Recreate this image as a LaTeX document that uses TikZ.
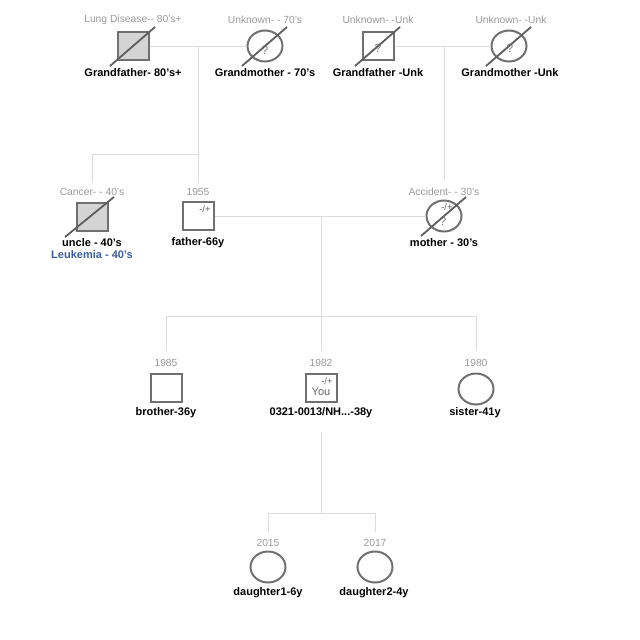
\documentclass[tikz,border=0pt]{standalone}
\usepackage{fontspec}
\setmainfont{Liberation Sans}
\usetikzlibrary{shapes.geometric,calc}
\definecolor{infogray}{HTML}{9A9A9A}
\definecolor{symgray}{HTML}{707070}
\definecolor{affgray}{HTML}{D4D4D4}
\definecolor{linkgray}{HTML}{DCDCDC}
\definecolor{slashgray}{HTML}{5E5E5E}
\definecolor{marktext}{HTML}{666666}
\definecolor{qgray}{HTML}{808080}
\definecolor{diseaseblue}{HTML}{3B5E9C}
\tikzset{
  male/.style={draw=symgray, line width=2pt, rectangle, minimum width=31pt, minimum height=28pt, inner sep=0pt},
  female/.style={draw=symgray, line width=2pt, ellipse, minimum width=35pt, minimum height=31pt, inner sep=0pt},
  affected/.style={fill=affgray},
  info/.style={text=infogray, font=\fontsize{10.3}{12}\selectfont, inner sep=0pt},
  pname/.style={font=\bfseries\fontsize{11}{13}\selectfont, inner sep=0pt},
  disease/.style={text=diseaseblue, font=\bfseries\fontsize{11}{13}\selectfont, inner sep=0pt},
  carriermark/.style={text=marktext, font=\fontsize{9.5}{10}\selectfont, inner sep=0pt},
  unknownmark/.style={text=qgray, font=\fontsize{12}{13}\selectfont, inner sep=0pt},
  link/.style={draw=linkgray, line width=0.8pt},
  slash/.style={draw=slashgray, line width=1.8pt},
}
\newcommand{\deceased}[1]{\draw[slash] ($(#1.center)+(-23,20)$) -- ($(#1.center)+(22,-19)$);}
\begin{document}
\begin{tikzpicture}[x=1pt,y=-1pt]
\fill[white] (0,0) rectangle (640,640);
\useasboundingbox (0,0) rectangle (640,640);

% ---------- connector junctions ----------
\coordinate (gp1drop) at (198,46);
\coordinate (sib1) at (92,154);
\coordinate (sib1r) at (198,154);
\coordinate (uncleend) at (92,183);
\coordinate (fatherend) at (198,183);
\coordinate (gp2drop) at (444,46);
\coordinate (motherend) at (444,181);
\coordinate (pdrop) at (321,216);
\coordinate (kidsmid) at (321,316);
\coordinate (kidsl) at (166,316);
\coordinate (kidsr) at (476,316);
\coordinate (brotherend) at (166,351);
\coordinate (youend) at (321,351);
\coordinate (sisterend) at (476,351);
\coordinate (youdrop) at (321,432);
\coordinate (dmid) at (321,513);
\coordinate (dl) at (268,513);
\coordinate (dr) at (375,513);
\coordinate (d1end) at (268,532);
\coordinate (d2end) at (375,532);

% ---------- individuals ----------
\node[male,affected] (gf1) at (133,46) {};
\node[female] (gm1) at (265,46) {};
\node[male] (gf2) at (378,46) {};
\node[female] (gm2) at (509,46) {};
\node[male,affected] (uncle) at (92,217) {};
\node[male] (father) at (198,216) {};
\node[female] (mother) at (444,216) {};
\node[male] (brother) at (166,388) {};
\node[male] (you) at (321,388) {};
\node[female] (sister) at (476,389) {};
\node[female] (d1) at (268,567) {};
\node[female] (d2) at (375,567) {};

\draw[link] (gf1.east) -- (gm1.west);
\draw[link] (gf2.east) -- (gm2.west);
\draw[link] (gp1drop) -- (fatherend);
\draw[link] (sib1) -- (sib1r);
\draw[link] (sib1) -- (uncleend);
\draw[link] (gp2drop) -- (motherend);
\draw[link] (father.east) -- (mother.west);
\draw[link] (pdrop) -- (kidsmid);
\draw[link] (kidsl) -- (kidsr);
\draw[link] (kidsl) -- (brotherend);
\draw[link] (kidsmid) -- (youend);
\draw[link] (kidsr) -- (sisterend);
\draw[link] (youdrop) -- (dmid);
\draw[link] (dl) -- (dr);
\draw[link] (dl) -- (d1end);
\draw[link] (dr) -- (d2end);

% ---------- marks inside symbols ----------
\node[unknownmark] (gm1q) at (265,50) {?};
\node[unknownmark] (gf2q) at (378,48) {?};
\node[unknownmark] (gm2q) at (510,48) {?};
\node[carriermark] (fathermk) at (205,209) {-/+};
\node[carriermark] (mothermk) at (447,207) {-/+};
\node[unknownmark] (motherq) at (443,221) {?};
\node[carriermark] (youmk) at (327,381) {-/+};
\node[text=marktext, font=\fontsize{11}{12}\selectfont, inner sep=0pt] (youtxt) at (321,392) {You};

% ---------- deceased ----------
\deceased{gf1}
\deceased{gm1}
\deceased{gf2}
\deceased{gm2}
\draw[slash] ($(uncle.center)+(-27,20)$) -- ($(uncle.center)+(22,-20)$);
\deceased{mother}

% ---------- labels ----------
\node[info] (gf1i) at (133,20) {Lung Disease-{}- 80's+};
\node[info] (gm1i) at (265,20) {Unknown- - 70's};
\node[info] (gf2i) at (378,20) {Unknown- -Unk};
\node[info] (gm2i) at (511,20) {Unknown- -Unk};
\node[pname] (gf1n) at (133,73) {Grandfather- 80's+};
\node[pname] (gm1n) at (265,73) {Grandmother - 70's};
\node[pname] (gf2n) at (378,73) {Grandfather -Unk};
\node[pname] (gm2n) at (510,73) {Grandmother -Unk};

\node[info] (unclei) at (92,192) {Cancer- - 40's};
\node[info] (fatheri) at (198,192) {1955};
\node[info] (motheri) at (444,192) {Accident- - 30's};
\node[pname] (unclen) at (92,243) {uncle - 40's};
\node[disease] (uncled) at (92,255) {Leukemia - 40's};
\node[pname] (fathern) at (198,243) {father-66y};
\node[pname] (mothern) at (444,243) {mother - 30's};

\node[info] (brotheri) at (166,363) {1985};
\node[info] (youi) at (321,363) {1982};
\node[info] (sisteri) at (476,363) {1980};
\node[pname] (brothern) at (166,413) {brother-36y};
\node[pname] (youn) at (321,413) {0321-0013/NH...-38y};
\node[pname] (sistern) at (475,413) {sister-41y};

\node[info] (d1i) at (268,543) {2015};
\node[info] (d2i) at (375,543) {2017};
\node[pname] (d1n) at (268,593) {daughter1-6y};
\node[pname] (d2n) at (374,593) {daughter2-4y};
\end{tikzpicture}
\end{document}
